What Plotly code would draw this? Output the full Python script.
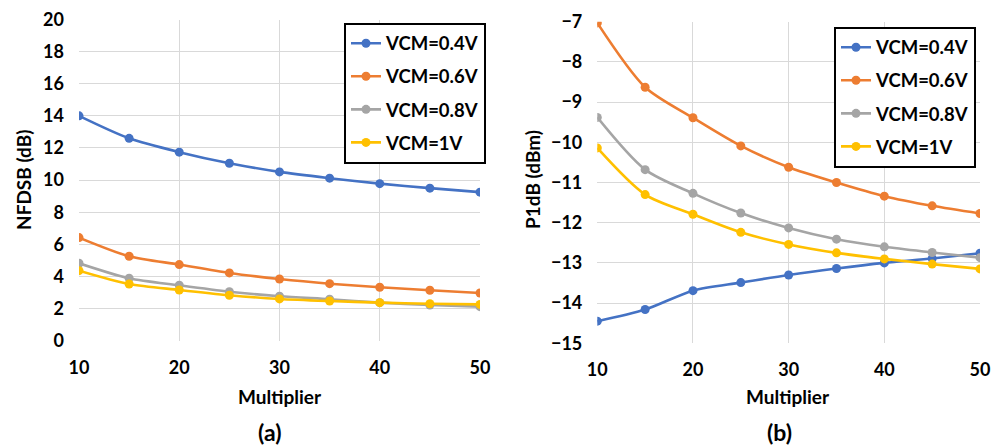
import plotly.graph_objects as go

multiplier = [10, 15, 20, 25, 30, 35, 40, 45, 50]
series_names = ["VCM=0.4V", "VCM=0.6V", "VCM=0.8V", "VCM=1V"]
colors = ["#4472C4", "#ED7D31", "#A5A5A5", "#FFC000"]

nf_04 = [14.0, 12.6, 11.74, 11.05, 10.51, 10.12, 9.78, 9.5, 9.25]
nf_06 = [6.42, 5.26, 4.74, 4.22, 3.84, 3.55, 3.33, 3.14, 2.97]
nf_08 = [4.82, 3.89, 3.45, 3.05, 2.77, 2.58, 2.37, 2.22, 2.12]
nf_1 = [4.36, 3.53, 3.16, 2.83, 2.6, 2.47, 2.37, 2.30, 2.26]

p1_04 = [-14.45, -14.16, -13.69, -13.49, -13.30, -13.14, -13.0, -12.89, -12.76]
p1_06 = [-7.03, -8.63, -9.39, -10.09, -10.62, -11.0, -11.34, -11.58, -11.77]
p1_08 = [-9.38, -10.68, -11.27, -11.76, -12.13, -12.41, -12.6, -12.74, -12.87]
p1_1 = [-10.14, -11.30, -11.79, -12.24, -12.54, -12.75, -12.9, -13.03, -13.15]

FONT = "Lato"
W, H = 1000, 445
ML, MR, MT, MB = 40, 10, 10, 60
PW, PH = W - ML - MR, H - MT - MB


def px_x(p):
    return (p - ML) / PW


def px_y(p):
    return (H - MB - p) / PH


fig = go.Figure()

for i, (name, c, ys) in enumerate(zip(series_names, colors, [nf_04, nf_06, nf_08, nf_1])):
    fig.add_trace(go.Scatter(x=multiplier, y=ys, name=name, mode="lines+markers", legendgroup=f"a{i}",
                             line=dict(color=c, width=2.6, shape="spline", smoothing=0.8),
                             marker=dict(color=c, size=9), xaxis="x", yaxis="y", legend="legend"))
for i, (name, c, ys) in enumerate(zip(series_names, colors, [p1_04, p1_06, p1_08, p1_1])):
    fig.add_trace(go.Scatter(x=multiplier, y=ys, name=name, mode="lines+markers", legendgroup=f"b{i}",
                             line=dict(color=c, width=2.6, shape="spline", smoothing=0.8),
                             marker=dict(color=c, size=9), xaxis="x2", yaxis="y2", legend="legend2"))

tickfont = dict(family=FONT, size=18, color="black", weight="bold")
grid = "#D9D9D9"
common_x = dict(range=[10, 50], tickvals=[10, 20, 30, 40, 50], showgrid=True, gridcolor=grid, gridwidth=1.3,
                zeroline=False, showline=False, tickfont=tickfont, ticks="", ticklabelstandoff=14,
                automargin=False)
common_y = dict(showgrid=True, gridcolor=grid, gridwidth=1.3, zeroline=False, showline=False,
                tickfont=tickfont, ticks="", ticklabelstandoff=14, automargin=False)

legfont = dict(family=FONT, size=18.5, color="black", weight="bold")
fig.update_layout(
    width=W, height=H,
    margin=dict(l=ML, r=MR, t=MT, b=MB, autoexpand=False),
    paper_bgcolor="white", plot_bgcolor="white",
    xaxis=dict(domain=[px_x(79), px_x(480)], anchor="y", **common_x),
    yaxis=dict(domain=[px_y(340.7), px_y(19.5)], anchor="x", range=[0, 20], dtick=2, **common_y),
    xaxis2=dict(domain=[px_x(597.3), px_x(980)], anchor="y2", **common_x),
    yaxis2=dict(domain=[px_y(343.3), px_y(21.7)], anchor="x2", range=[-15, -7], dtick=1, **common_y),
    legend=dict(x=px_x(344), y=px_y(22.7), xanchor="left", yanchor="top", bgcolor="white",
                bordercolor="black", borderwidth=2, font=legfont, itemwidth=30, tracegroupgap=6,
                traceorder="grouped"),
    legend2=dict(x=px_x(834), y=px_y(26.7), xanchor="left", yanchor="top", bgcolor="white",
                 bordercolor="black", borderwidth=2, font=legfont, itemwidth=30, tracegroupgap=6,
                 traceorder="grouped"),
    showlegend=True,
)

titlefont = dict(family=FONT, size=19, color="black", weight="bold")
capfont = dict(family=FONT, size=23, color="black", weight="bold")
annots = [
    dict(text="NFDSB (dB)", x=23, y=180, textangle=-90, font=titlefont),
    dict(text="Multiplier", x=280, y=396, font=titlefont),
    dict(text="(a)", x=269, y=432, font=capfont),
    dict(text="P1dB (dBm)", x=532, y=180, textangle=-90, font=titlefont),
    dict(text="Multiplier", x=788, y=396, font=titlefont),
    dict(text="(b)", x=779, y=432, font=capfont),
]
for a in annots:
    fig.add_annotation(text=a["text"], x=px_x(a["x"]), y=px_y(a["y"]), xref="paper", yref="paper",
                       showarrow=False, xanchor="center", yanchor="middle",
                       textangle=a.get("textangle", 0), font=a["font"])

fig.write_html("out.html")
